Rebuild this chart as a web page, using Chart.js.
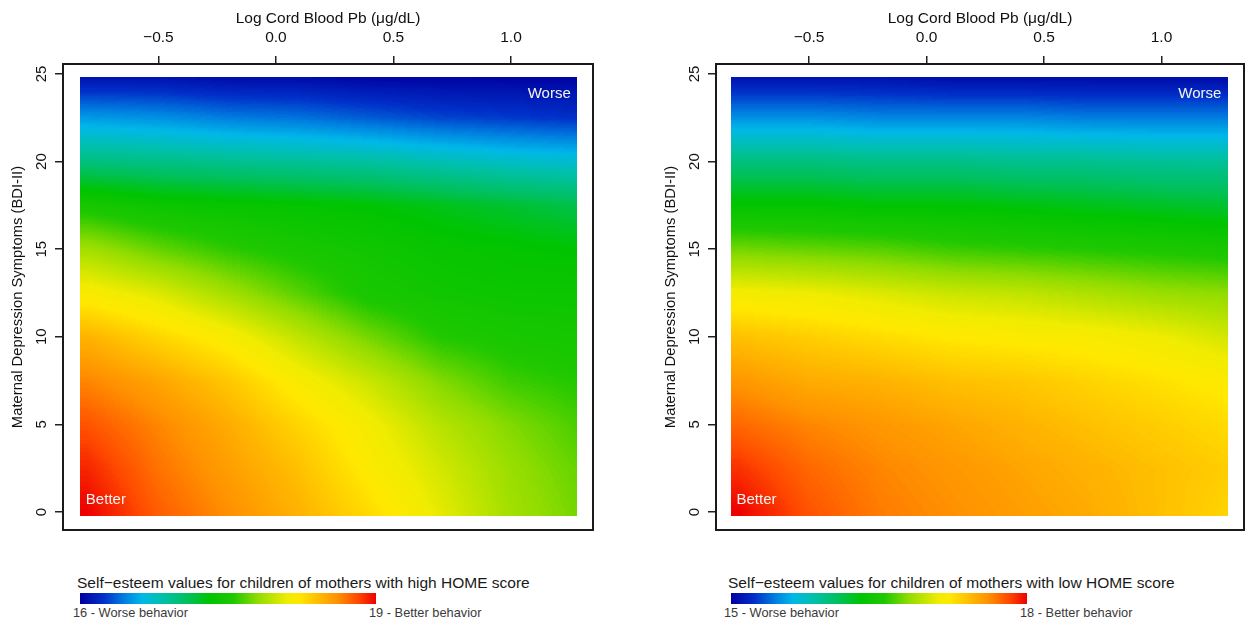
<!DOCTYPE html>
<html>
<head>
<meta charset="utf-8">
<script src="https://cdn.jsdelivr.net/npm/chart.js@4.4.1/dist/chart.umd.min.js"></script>
<style>
  body { margin: 0; width: 1253px; height: 622px; background: #fff; position: relative; overflow: hidden;
         font-family: "Liberation Sans", Arial, sans-serif; }
  canvas { position: absolute; top: 0; }
  #highChart { left: 0; }
  #lowChart { left: 653px; }
  .key-title { position: absolute; top: 575px; font-size: 15.5px; line-height: 16px; color: #1a1a1a; white-space: nowrap; }
  .key-bar { position: absolute; top: 593px; width: 296px; height: 11px; }
  .key-lab { position: absolute; top: 606px; font-size: 12.8px; line-height: 13px; color: #3a3a3a; white-space: nowrap; }
</style>
</head>
<body>
<canvas id="highChart" width="626" height="560"></canvas>
<canvas id="lowChart" width="600" height="560"></canvas>

<script>
// grid nodes
const logPb = [-0.8, -0.5, -0.2, 0.1, 0.4, 0.7, 1.0, 1.28];
const bdi = [0, 2.5, 5, 7.5, 10, 12.5, 15, 17.5, 20, 22.5, 25];

// self-esteem, high HOME score (rows = bdi, cols = logPb)
const highHome = [
  [19.00, 18.76, 18.61, 18.46, 18.28, 18.07, 17.86, 17.74],
  [18.91, 18.70, 18.55, 18.40, 18.19, 18.01, 17.83, 17.71],
  [18.79, 18.64, 18.49, 18.31, 18.13, 17.92, 17.77, 17.65],
  [18.64, 18.52, 18.37, 18.16, 17.98, 17.77, 17.62, 17.56],
  [18.46, 18.31, 18.16, 17.95, 17.74, 17.56, 17.50, 17.47],
  [18.16, 18.04, 17.86, 17.68, 17.50, 17.44, 17.41, 17.41],
  [17.86, 17.71, 17.59, 17.50, 17.44, 17.38, 17.35, 17.32],
  [17.50, 17.41, 17.38, 17.35, 17.32, 17.26, 17.20, 17.14],
  [16.99, 16.96, 16.93, 16.90, 16.87, 16.81, 16.75, 16.72],
  [16.54, 16.51, 16.45, 16.42, 16.36, 16.30, 16.27, 16.24],
  [16.06, 16.06, 16.03, 16.03, 16.00, 16.00, 16.00, 16.00]
];

// self-esteem, low HOME score
const lowHome = [
  [18.00, 17.79, 17.67, 17.61, 17.55, 17.49, 17.40, 17.31],
  [17.88, 17.73, 17.64, 17.58, 17.52, 17.46, 17.40, 17.34],
  [17.73, 17.64, 17.58, 17.52, 17.46, 17.40, 17.34, 17.28],
  [17.58, 17.49, 17.46, 17.40, 17.37, 17.31, 17.25, 17.19],
  [17.40, 17.34, 17.28, 17.22, 17.19, 17.16, 17.10, 17.01],
  [17.13, 17.10, 17.04, 16.98, 16.95, 16.89, 16.83, 16.80],
  [16.74, 16.71, 16.68, 16.62, 16.59, 16.56, 16.53, 16.50],
  [16.35, 16.35, 16.32, 16.32, 16.29, 16.26, 16.23, 16.20],
  [15.99, 15.99, 15.96, 15.96, 15.93, 15.93, 15.90, 15.90],
  [15.51, 15.51, 15.48, 15.48, 15.48, 15.45, 15.45, 15.45],
  [15.06, 15.06, 15.06, 15.03, 15.03, 15.03, 15.03, 15.03]
];

const highRange = [16, 19];
const lowRange = [15, 18];
const xTickValues = [-0.5, 0, 0.5, 1.0];
const yTickValues = [0, 5, 10, 15, 20, 25];

// colour ramp blue -> cyan -> green -> yellow -> red
const rampStops = [
  [0.00, '#0000a0'], [0.08, '#0030c8'], [0.15, '#0080e0'], [0.21, '#00b8e8'],
  [0.28, '#00c0a8'], [0.36, '#00c060'], [0.44, '#00c400'], [0.52, '#20c800'],
  [0.60, '#90dc00'], [0.70, '#f0ec00'], [0.74, '#ffe800'], [0.80, '#ffc000'],
  [0.87, '#ff9000'], [0.94, '#ff4800'], [1.00, '#ee0000']
];

function hexRgb(h) {
  return [parseInt(h.slice(1, 3), 16), parseInt(h.slice(3, 5), 16), parseInt(h.slice(5, 7), 16)];
}
const lut = [];
for (let k = 0; k < 256; k++) {
  const t = k / 255;
  let i = 0;
  while (i < rampStops.length - 2 && t > rampStops[i + 1][0]) i++;
  const a = rampStops[i], b = rampStops[i + 1];
  const f = Math.min(1, Math.max(0, (t - a[0]) / (b[0] - a[0])));
  const ca = hexRgb(a[1]), cb = hexRgb(b[1]);
  lut.push('rgb(' + ca.map((c, j) => Math.round(c + (cb[j] - c) * f)).join(',') + ')');
}
function colorAt(t) {
  return lut[Math.round(Math.min(1, Math.max(0, t)) * 255)];
}

function seg(arr, v) {
  if (v <= arr[0]) return [0, 0];
  if (v >= arr[arr.length - 1]) return [arr.length - 2, 1];
  let i = 0;
  while (arr[i + 1] < v) i++;
  return [i, (v - arr[i]) / (arr[i + 1] - arr[i])];
}
function sample(z, xv, yv) {
  const [i, fx] = seg(logPb, xv);
  const [j, fy] = seg(bdi, yv);
  const a = z[j][i] * (1 - fx) + z[j][i + 1] * fx;
  const b = z[j + 1][i] * (1 - fx) + z[j + 1][i + 1] * fx;
  return a * (1 - fy) + b * fy;
}

const heatPlugin = {
  id: 'heat',
  beforeDatasetsDraw(chart, args, opts) {
    const { ctx } = chart;
    const xs = chart.scales.x, ys = chart.scales.y;
    const [x0, x1] = opts.xExtent, [y0, y1] = opts.yExtent;
    const [lo, hi] = opts.range;
    const nx = 248, ny = 219;
    ctx.save();
    for (let i = 0; i < nx; i++) {
      const xa = x0 + (x1 - x0) * i / nx, xb = x0 + (x1 - x0) * (i + 1) / nx;
      const pa = Math.floor(xs.getPixelForValue(xa)), pb = Math.ceil(xs.getPixelForValue(xb));
      for (let j = 0; j < ny; j++) {
        const ya = y0 + (y1 - y0) * j / ny, yb = y0 + (y1 - y0) * (j + 1) / ny;
        const qa = Math.ceil(ys.getPixelForValue(ya)), qb = Math.floor(ys.getPixelForValue(yb));
        const v = sample(opts.z, (xa + xb) / 2, (ya + yb) / 2);
        ctx.fillStyle = colorAt((v - lo) / (hi - lo));
        ctx.fillRect(pa, qb, pb - pa, qa - qb);
      }
    }
    ctx.restore();
  },
  afterDraw(chart, args, opts) {
    const { ctx, chartArea: ca } = chart;
    const xs = chart.scales.x, ys = chart.scales.y;
    ctx.save();
    // box
    ctx.strokeStyle = '#1a1a1a';
    ctx.lineWidth = 2;
    ctx.strokeRect(ca.left, ca.top, ca.right - ca.left, ca.bottom - ca.top);
    // rotated y tick labels
    ctx.fillStyle = '#111';
    ctx.font = '15px "Liberation Sans", Arial, sans-serif';
    ctx.textAlign = 'center';
    ctx.textBaseline = 'alphabetic';
    ys.ticks.forEach(t => {
      ctx.save();
      ctx.translate(ca.left - 17, ys.getPixelForValue(t.value));
      ctx.rotate(-Math.PI / 2);
      ctx.fillText(String(t.value), 0, 0);
      ctx.restore();
    });
    // corner notes
    const hl = xs.getPixelForValue(opts.xExtent[0]), hr = xs.getPixelForValue(opts.xExtent[1]);
    const hb = ys.getPixelForValue(opts.yExtent[0]), ht = ys.getPixelForValue(opts.yExtent[1]);
    ctx.fillStyle = '#f4f4f4';
    ctx.textBaseline = 'middle';
    ctx.textAlign = 'right';
    ctx.fillText('Worse', hr - 6, ht + 16);
    ctx.textAlign = 'left';
    ctx.fillText('Better', hl + 5, hb - 16);
    ctx.restore();
  }
};

function makePanel(id, z, range, xMin, xMax) {
  const font = { family: '"Liberation Sans", Arial, sans-serif' };
  return new Chart(document.getElementById(id), {
    type: 'scatter',
    data: { datasets: [{ data: [] }] },
    options: {
      responsive: false,
      animation: false,
      events: [],
      layout: { padding: { left: 0, top: 0, right: id === 'highChart' ? 33 : 9, bottom: 30 } },
      plugins: {
        legend: { display: false },
        tooltip: { enabled: false },
        heat: { z: z, range: range, xExtent: [-0.83, 1.28], yExtent: [-0.2, 24.8] }
      },
      scales: {
        x: {
          type: 'linear', position: 'top', min: xMin, max: xMax,
          afterFit: s => { s.height = 64; },
          afterBuildTicks: s => { s.ticks = xTickValues.map(v => ({ value: v })); },
          border: { display: false },
          grid: { drawOnChartArea: false, tickLength: 8, color: '#222', lineWidth: 1.5 },
          ticks: {
            color: '#111', padding: 9, maxRotation: 0, autoSkip: false,
            font: Object.assign({ size: 15.5 }, font),
            callback: v => (v < 0 ? '\u2212' : '') + Math.abs(v).toFixed(1)
          },
          title: {
            display: true, text: 'Log Cord Blood Pb (\u03bcg/dL)', color: '#111',
            font: Object.assign({ size: 15.5 }, font), padding: { top: 9.5, bottom: 0 }
          }
        },
        y: {
          type: 'linear', min: -1.03, max: 25.57,
          afterFit: s => { s.width = 63; },
          afterBuildTicks: s => { s.ticks = yTickValues.map(v => ({ value: v })); },
          border: { display: false },
          grid: { drawOnChartArea: false, tickLength: 8, color: '#222', lineWidth: 1.5 },
          ticks: { display: false },
          title: {
            display: true, text: 'Maternal Depression Symptoms (BDI-II)', color: '#111',
            font: Object.assign({ size: 14.8 }, font), padding: { top: 9.5, bottom: 0 }
          }
        }
      }
    },
    plugins: [heatPlugin]
  });
}

makePanel('highChart', highHome, highRange, -0.906, 1.349);
makePanel('lowChart', lowHome, lowRange, -0.896, 1.351);

// colour keys under each panel
const gradient = 'linear-gradient(to right, ' +
  rampStops.map(s => s[1] + ' ' + (s[0] * 100) + '%').join(', ') + ')';
function addKey(left, title, range) {
  const add = (cls, x, text) => {
    const d = document.createElement('div');
    d.className = cls;
    d.style.left = x + 'px';
    if (text) d.textContent = text;
    document.body.appendChild(d);
    return d;
  };
  add('key-title', left - 3, title);
  add('key-bar', left).style.background = gradient;
  add('key-lab', left - 7, range[0] + ' - Worse behavior');
  add('key-lab', left + 289, range[1] + ' - Better behavior');
}
addKey(80, 'Self\u2212esteem values for children of mothers with high HOME score', highRange);
addKey(731, 'Self\u2212esteem values for children of mothers with low HOME score', lowRange);
</script>
</body>
</html>
